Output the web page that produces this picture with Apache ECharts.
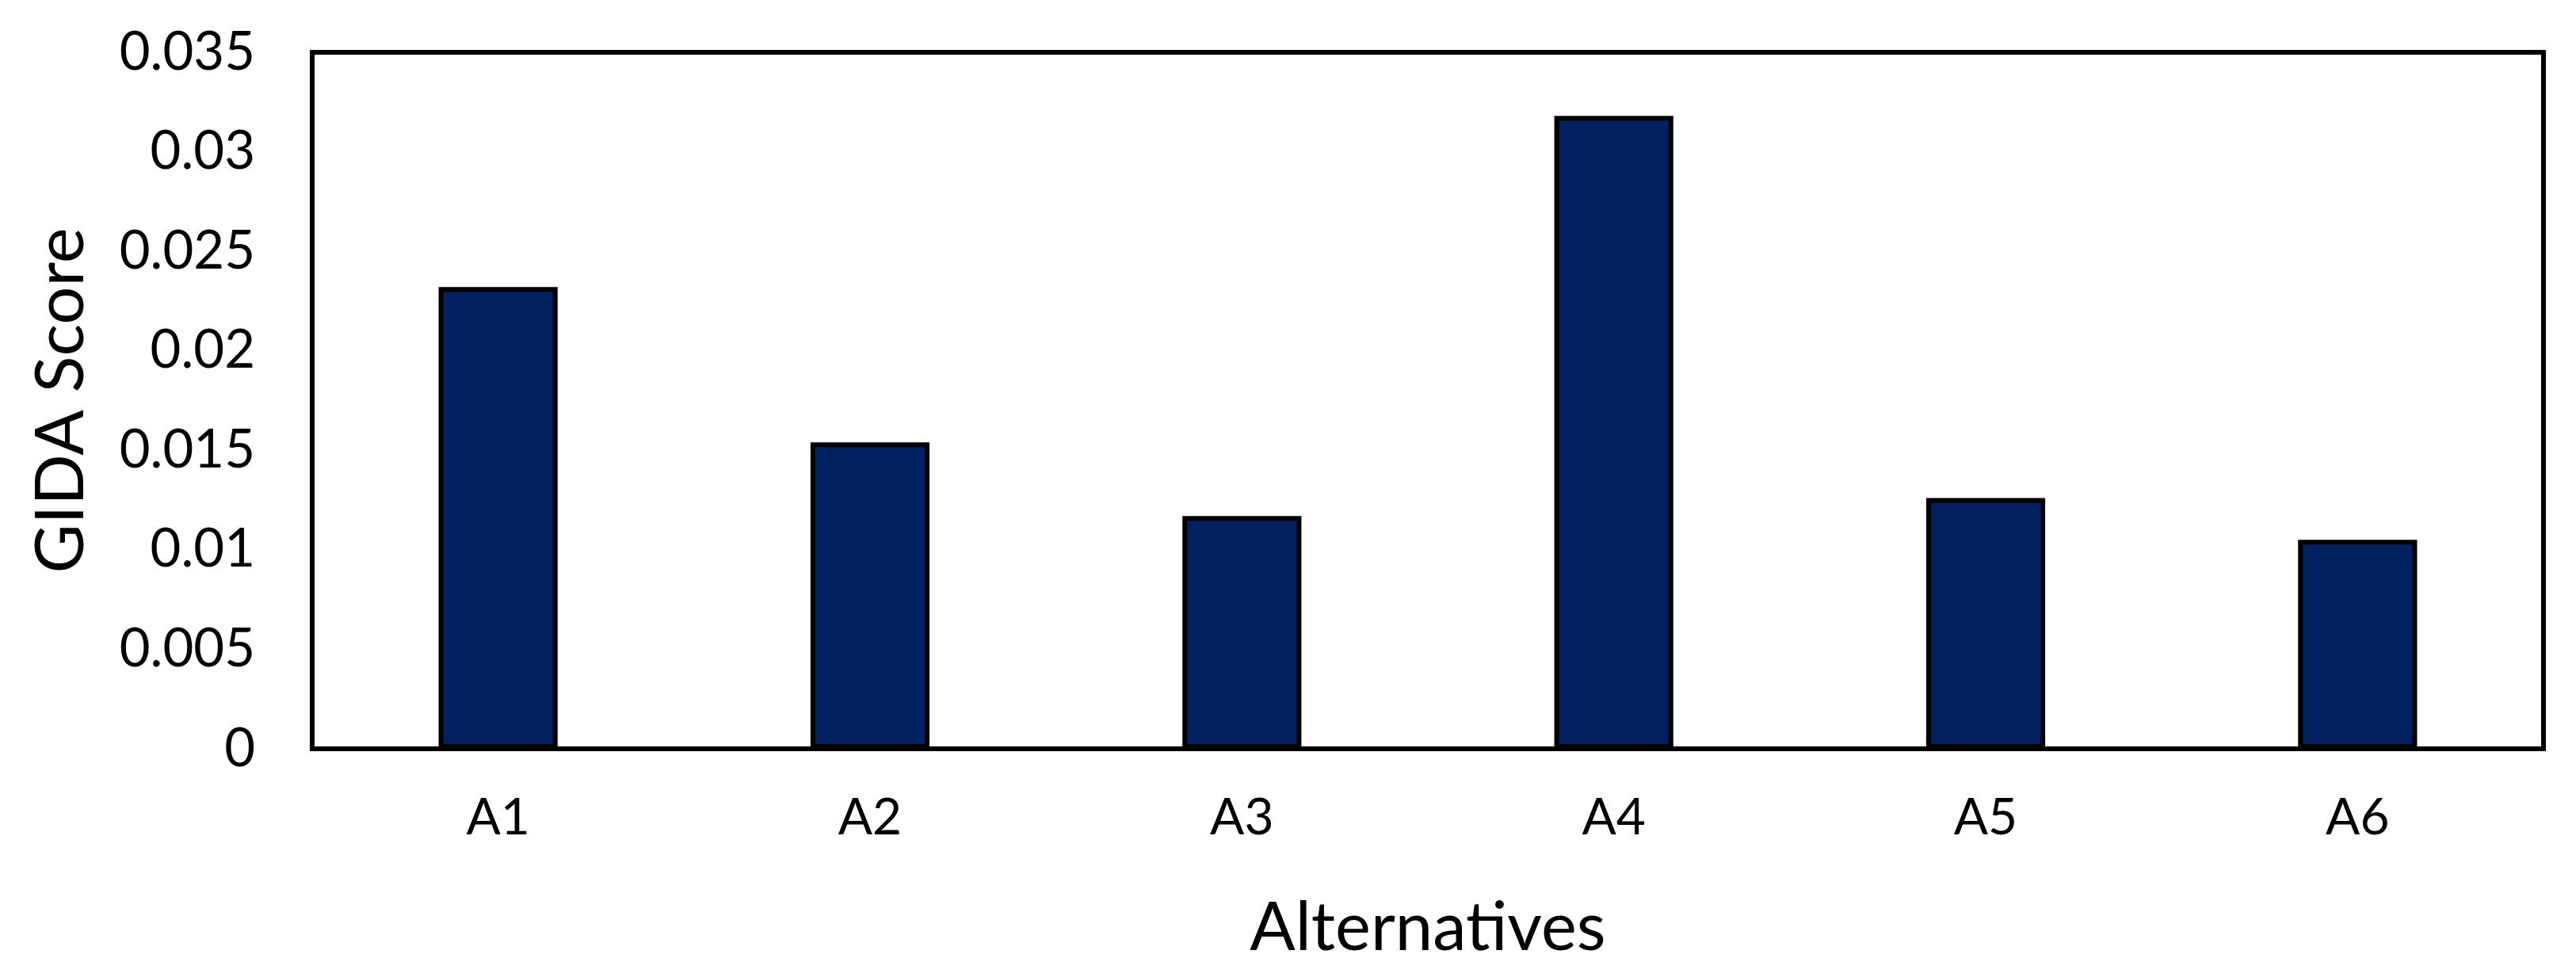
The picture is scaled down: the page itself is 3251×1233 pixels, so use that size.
<!DOCTYPE html>
<html lang="en">
  <head>
    <meta charset="UTF-8" />
    <title>GIDA Score by Alternative</title>
    <script src="https://cdn.jsdelivr.net/npm/echarts/dist/echarts.min.js"></script>
    <style>
      html, body { margin: 0; padding: 0; background: #fff; }
    </style>
  </head>
  <body>
    <div id="chart" style="width: 3251px; height: 1233px"></div>

    <script>
      // chart data
      const alternatives = ["A1", "A2", "A3", "A4", "A5", "A6"];
      const gidaScores = [0.0232, 0.0154, 0.0117, 0.0318, 0.0126, 0.0105];

      var chart = echarts.init(document.getElementById("chart"));
      var fontFamily = "Lato, 'Open Sans', sans-serif";

      var option = {
        backgroundColor: "#ffffff",
        animation: false,
        grid: {
          left: 394,
          right: 41,
          top: 66,
          bottom: 288,
          show: true,
          borderColor: "#000",
          borderWidth: 6,
        },
        xAxis: {
          type: "category",
          data: alternatives,
          name: "Alternatives",
          nameLocation: "middle",
          nameGap: 184,
          nameTextStyle: { fontSize: 85, color: "#000", fontFamily: fontFamily },
          axisLine: { show: true, lineStyle: { color: "#000", width: 6 } },
          axisTick: { show: false },
          axisLabel: { fontSize: 64, color: "#000", margin: 55, fontFamily: fontFamily },
        },
        yAxis: {
          type: "value",
          min: 0,
          max: 0.035,
          interval: 0.005,
          name: "GIDA Score",
          nameLocation: "middle",
          nameGap: 274,
          nameTextStyle: { fontSize: 85, color: "#000", fontFamily: fontFamily },
          axisLine: { show: true, lineStyle: { color: "#000", width: 6 } },
          axisTick: { show: false },
          splitLine: { show: false },
          axisLabel: { fontSize: 67, color: "#000", margin: 72, fontFamily: fontFamily },
        },
        series: [
          {
            type: "bar",
            data: gidaScores,
            barWidth: "32%",
            itemStyle: {
              color: "#002060",
              borderColor: "#000",
              borderWidth: 6,
            },
          },
        ],
      };

      chart.setOption(option);
    </script>
  </body>
</html>
